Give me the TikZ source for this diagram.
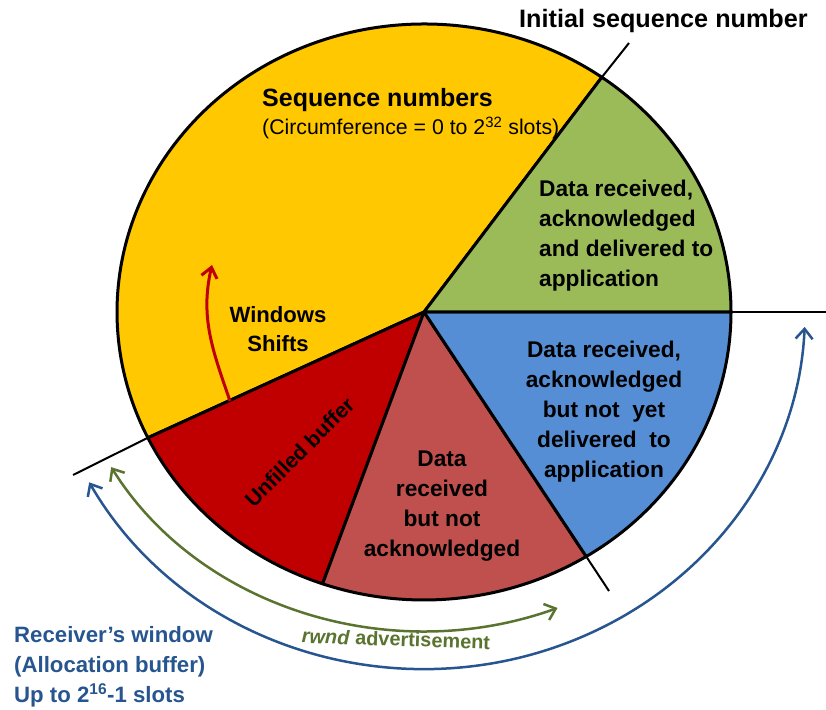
\documentclass[tikz,border=0pt]{standalone}
\usepackage{fontspec}
\setmainfont{Liberation Sans}
\usetikzlibrary{arrows.meta}
\definecolor{secyellow}{HTML}{FFC800}
\definecolor{secgreen}{HTML}{9BBB59}
\definecolor{secblue}{HTML}{558ED5}
\definecolor{secpink}{HTML}{C0504D}
\definecolor{secred}{HTML}{C00000}
\definecolor{olivec}{HTML}{5A742F}
\definecolor{navyc}{HTML}{26558F}
\begin{document}
\begin{tikzpicture}[x=1pt,y=1pt,
  sector/.style={draw=black, line width=3pt, line join=round},
  extline/.style={draw=black, line width=2pt},
  lbl/.style={inner sep=0pt, font=\fontsize{22.7}{30}\selectfont\bfseries},
  arcarrow/.style={line width=2.5pt, {Straight Barb[length=10pt,width=17pt]}-{Straight Barb[length=10pt,width=17pt]}},
  shiftarrow/.style={draw=secred, line width=3pt, -{Straight Barb[length=10pt,width=16pt]}}
]
\useasboundingbox (0,0) rectangle (826,709);
\coordinate (O) at (424,397);
\begin{scope}[shift={(424,397)}]
  \coordinate (P0) at (0:307 and 288);
  \coordinate (P1) at (54.6:307 and 288);
  \coordinate (P2) at (205.9:307 and 288);
  \coordinate (P3) at (250.7:307 and 288);
  \coordinate (P4) at (301.9:307 and 288);
  \coordinate (gA) at (209.1:358 and 319);
  \coordinate (bA) at (208.5:381 and 357);
\end{scope}
% sectors
\filldraw[sector, fill=secyellow] (O) -- (P1) arc[start angle=54.6, end angle=205.9, x radius=307, y radius=288] -- cycle;
\filldraw[sector, fill=secred] (O) -- (P2) arc[start angle=205.9, end angle=250.7, x radius=307, y radius=288] -- cycle;
\filldraw[sector, fill=secpink] (O) -- (P3) arc[start angle=250.7, end angle=301.9, x radius=307, y radius=288] -- cycle;
\filldraw[sector, fill=secblue] (O) -- (P4) arc[start angle=301.9, end angle=360, x radius=307, y radius=288] -- cycle;
\filldraw[sector, fill=secgreen] (O) -- (P0) arc[start angle=0, end angle=54.6, x radius=307, y radius=288] -- cycle;
% extension lines
\coordinate (E1) at (629,666);
\coordinate (E0) at (826,397);
\coordinate (E4) at (609,118);
\coordinate (E2) at (73,234);
\draw[extline] (P1) -- (E1);
\draw[extline] (P0) -- (E0);
\draw[extline] (P4) -- (E4);
\draw[extline] (P2) -- (E2);
% window shift arrow
\coordinate (sA) at (230,308);
\coordinate (sB) at (212,444);
\draw[shiftarrow] (sA) to[out=109,in=257] (sB);
% outer arcs
\draw[arcarrow, draw=olivec] (gA) arc[start angle=209.1, end angle=291.9, x radius=358, y radius=319];
\draw[arcarrow, draw=navyc] (bA) arc[start angle=208.5, end angle=357.6, x radius=381, y radius=357];
% labels
\node[lbl, anchor=base west, font=\fontsize{25.2}{30}\selectfont\bfseries] (isn) at (519,681) {Initial sequence number};
\node[lbl, anchor=base west] (seq) at (262,602) {\fontsize{25}{28}\selectfont\begin{tabular}[t]{@{}l@{}}\bfseries Sequence numbers\\ \fontsize{21.3}{28}\selectfont\mdseries(Circumference = 0 to 2\textsuperscript{32} slots)\end{tabular}};
\node[lbl, anchor=base west] (green) at (539,512) {\begin{tabular}[t]{@{}l@{}}Data received,\\ acknowledged\\ and delivered to\\ application\end{tabular}};
\node[lbl, anchor=base] (blue) at (604,351) {\begin{tabular}[t]{@{}c@{}}Data received,\\ acknowledged\\ but not~\ yet\\ delivered~\ to\\ application\end{tabular}};
\node[lbl, anchor=base] (pink) at (442,242) {\begin{tabular}[t]{@{}c@{}}Data\\ received\\ but not\\ acknowledged\end{tabular}};
\node[lbl, anchor=base, font=\fontsize{22.1}{29}\selectfont\bfseries] (shift) at (278,386) {\begin{tabular}[t]{@{}c@{}}Windows\\ Shifts\end{tabular}};
\node[lbl, font=\fontsize{21.3}{26}\selectfont\bfseries, rotate=45] (unf) at (299.5,257) {Unfilled buffer};
\node[lbl, anchor=base west, text=navyc, font=\fontsize{22.2}{30}\selectfont\bfseries] (recv) at (14,67) {\begin{tabular}[t]{@{}l@{}}Receiver’s window\\ (Allocation buffer)\\ Up to 2\textsuperscript{16}-1 slots\end{tabular}};
\node[lbl, font=\fontsize{19.9}{26}\selectfont\bfseries, text=olivec, rotate=-2] (rwnd) at (396,70) {\textit{rwnd} advertisement};
\end{tikzpicture}
\end{document}
